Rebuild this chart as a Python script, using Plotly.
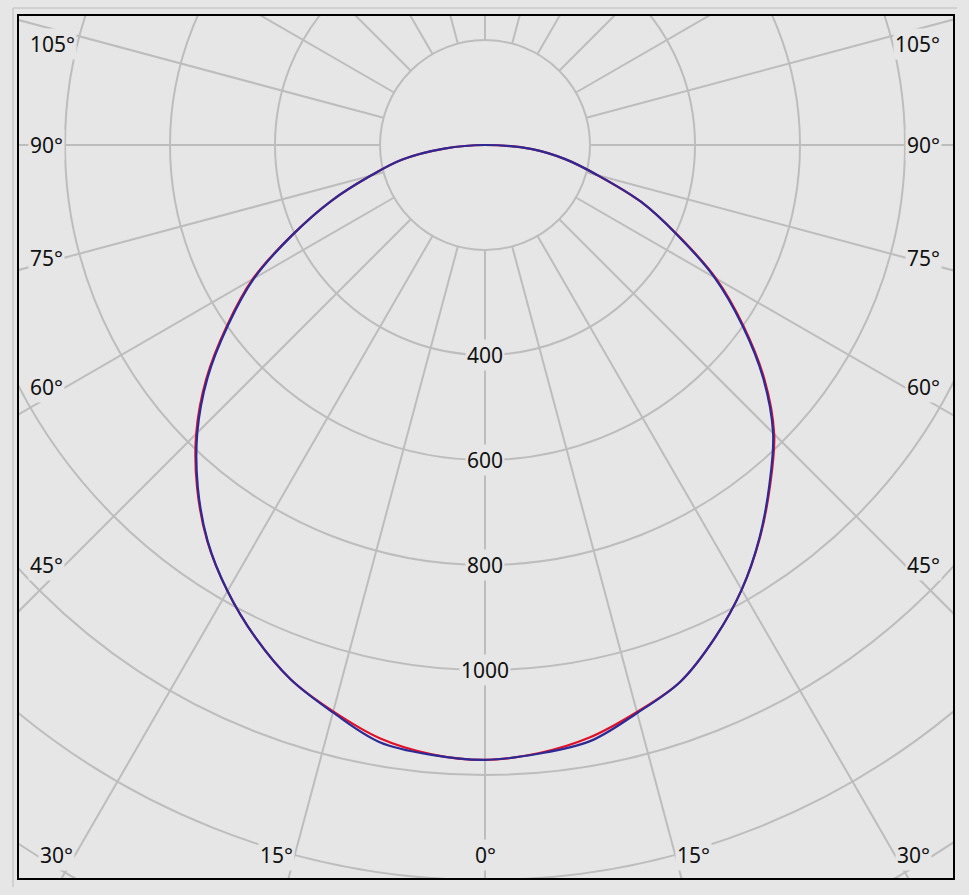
import numpy as np
import plotly.graph_objects as go

# ---- data (luminous intensity, cd/klm) ----
gamma = [0, 5, 10, 15, 20, 25, 30, 35, 40, 45, 50, 55, 60, 65, 70, 75, 80, 85, 90]
blue_c0 = [1171, 1164, 1153, 1120, 1088, 1036, 978, 912, 843, 776, 692, 598, 505, 403, 316, 222, 155, 90, 0]
blue_c180 = [1171, 1166, 1155, 1119, 1083, 1035, 981, 921, 851, 775, 690, 597, 508, 404, 312, 225, 161, 78, 0]
red_c0 = [1171, 1163, 1146, 1118, 1088, 1036, 978, 913, 845, 779, 695, 601, 508, 404, 316, 222, 155, 90, 0]
red_c180 = [1171, 1165, 1148, 1117, 1083, 1035, 981, 922, 853, 778, 693, 600, 511, 405, 312, 225, 161, 78, 0]

grid_radii = [200, 400, 600, 800, 1000, 1200, 1400, 1600, 1800, 2000]
radial_labels = [400, 600, 800, 1000]
spoke_angles = list(range(0, 360, 15))
angle_labels = [0, 15, 30, 45, 60, 75, 90, 105]

# ---- layout geometry ----
W, H = 969, 895
ML, MR, MT, MB = 19, 16, 16, 17
S = 0.525            # pixels per cd/klm
CX, CY = 485, 145    # pole position in pixels
BG = "#e6e6e6"
GRID = "#bdbdbd"
FONT = "Noto Sans"
FSIZE = 21

x_range = [(ML - CX) / S, (W - MR - CX) / S]
y_range = [-(H - MB - CY) / S, (CY - MT) / S]


def curve(c0, c180):
    ang = np.array([-g for g in gamma[::-1]] + gamma[1:], dtype=float)
    vals = np.array(c180[::-1] + c0[1:], dtype=float)
    th = np.radians(ang)
    return vals * np.sin(th), -vals * np.cos(th)


fig = go.Figure()
for c0, c180, col in [(red_c0, red_c180, "#e0102a"), (blue_c0, blue_c180, "#2c2a96")]:
    x, y = curve(c0, c180)
    fig.add_trace(go.Scatter(x=x, y=y, mode="lines",
                             line=dict(color=col, width=2.2, shape="spline", smoothing=1.0),
                             hoverinfo="skip", showlegend=False))

shapes = []
for r in grid_radii:
    shapes.append(dict(type="circle", xref="x", yref="y", x0=-r, x1=r, y0=-r, y1=r,
                       line=dict(color=GRID, width=2), layer="below"))
for a in spoke_angles:
    t = np.radians(a)
    r0, r1 = grid_radii[0], 2600
    shapes.append(dict(type="line", xref="x", yref="y",
                       x0=r0 * np.sin(t), y0=-r0 * np.cos(t),
                       x1=r1 * np.sin(t), y1=-r1 * np.cos(t),
                       line=dict(color=GRID, width=2), layer="below"))
# panel border (top and left), outside the frame
px2paper_x = lambda p: (p - ML) / (W - ML - MR)
px2paper_y = lambda p: 1 - (p - MT) / (H - MT - MB)
shapes.append(dict(type="line", xref="paper", yref="paper", x0=px2paper_x(13), x1=px2paper_x(957),
                   y0=px2paper_y(8), y1=px2paper_y(8), line=dict(color="#c8c8c8", width=1.5)))
shapes.append(dict(type="line", xref="paper", yref="paper", x0=px2paper_x(13), x1=px2paper_x(13),
                   y0=px2paper_y(8), y1=px2paper_y(887), line=dict(color="#c8c8c8", width=1.5)))

annotations = []
for r in radial_labels:
    annotations.append(dict(x=0, y=-r, xref="x", yref="y", text=str(r), showarrow=False,
                            font=dict(family=FONT, size=FSIZE, color="#111"), bgcolor=BG,
                            xanchor="center", yanchor="middle", borderpad=1))

side = 420 / S
bottom = 710 / S
top_clamp = (CY - 44) / S
for a in angle_labels:
    t = np.radians(a)
    sides = [1] if a == 0 else [-1, 1]
    for s in sides:
        sa, ca = np.sin(t), np.cos(t)
        t_side = side / sa if sa > 1e-9 else np.inf
        t_bot = bottom / ca if ca > 1e-9 else np.inf
        if t_bot < t_side:
            x, y = s * t_bot * sa, -bottom
            xa = "center" if a == 0 else ("left" if s > 0 else "right")
        else:
            y = -t_side * ca
            x = s * side
            if y > top_clamp:          # keep the label inside the frame
                y = top_clamp
                x = s * (side - 12 / S)
            xa = "left" if s > 0 else "right"
        annotations.append(dict(x=x, y=y, xref="x", yref="y", text=f"{a}°", showarrow=False,
                                font=dict(family=FONT, size=FSIZE, color="#111"), bgcolor=BG,
                                xanchor=xa, yanchor="middle", borderpad=1))

axis_common = dict(showgrid=False, zeroline=False, showticklabels=False, ticks="",
                   showline=True, mirror=True, linecolor="black", linewidth=1.5, fixedrange=True)
fig.update_layout(
    width=W, height=H, margin=dict(l=ML, r=MR, t=MT, b=MB),
    paper_bgcolor=BG, plot_bgcolor=BG,
    xaxis=dict(range=x_range, **axis_common),
    yaxis=dict(range=y_range, **axis_common),
    shapes=shapes, annotations=annotations, showlegend=False,
)
fig.write_html("out.html", config={"displayModeBar": False},
               post_script="document.body.style.margin='0';document.body.style.background='#e6e6e6';")
